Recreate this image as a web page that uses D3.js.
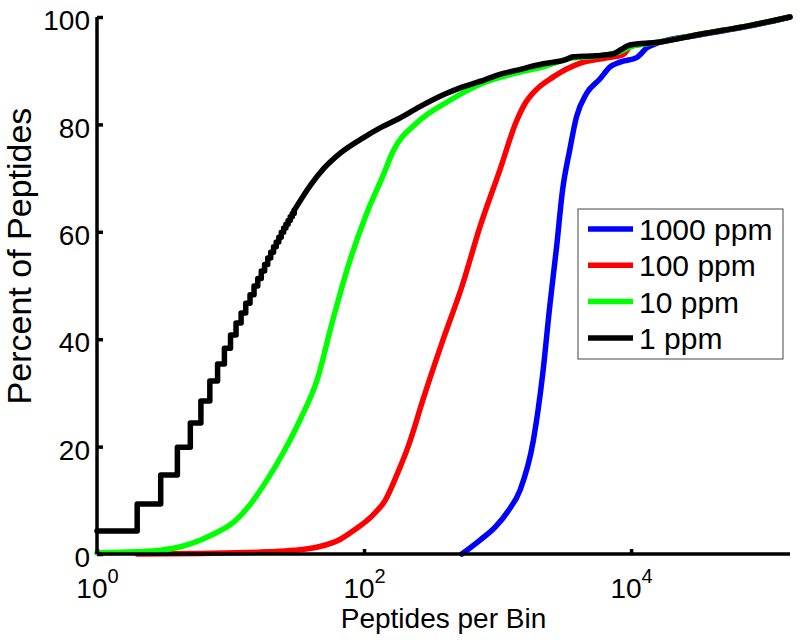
<!DOCTYPE html>
<html>
<head>
<meta charset="utf-8">
<script src="https://cdn.jsdelivr.net/npm/d3@7"></script>
<style>
html,body{margin:0;padding:0;background:#fff;}
svg{display:block;font-family:"Liberation Sans",Arial,Helvetica,sans-serif;}
</style>
</head>
<body>
<svg id="chart" width="800" height="640"></svg>
<script>
// ---- data ----
const xTickValues = [1, 100, 10000];
const xTickExponents = ["0", "2", "4"];
const yTickValues = [0, 20, 40, 60, 80, 100];
const seriesNames = ["1000 ppm", "100 ppm", "10 ppm", "1 ppm"];
const seriesColors = ["#0000ff", "#ff0000", "#00ff00", "#000000"];

const blueX = [540, 740, 960, 1200, 1475, 1855, 2183, 2457, 2768, 3070, 3470, 3900, 4650, 5860, 6960, 8260, 11100, 13200, 16000, 33000, 77000, 155000];
const blueY = [0, 2.6, 5.0, 8.0, 11.9, 21.2, 33.7, 46, 57.2, 67.8, 75.2, 81.4, 85.8, 88.5, 90.7, 91.6, 92.5, 94.3, 95.2, 96.7, 98.3, 100];

const redX = [2, 6, 19, 30, 45, 66, 85, 116, 144, 180, 214, 281, 392, 544, 740, 1040, 1380, 1600, 1920, 2600, 4170, 6600, 8700, 10000, 16000, 33000, 77000, 155000];
const redY = [0, 0.1, 0.4, 0.7, 1.3, 2.7, 4.5, 7.2, 10, 15.3, 20, 29.3, 40, 50, 61, 71.5, 80.5, 83.8, 86.3, 88.8, 91.4, 92.4, 93, 94.6, 95.3, 96.8, 98.4, 100];

const greenX = [1, 2, 3, 4.3, 6.1, 8, 10.4, 14, 18.8, 25, 33.2, 44.5, 58.4, 78.5, 105, 139, 165, 249, 441, 780, 1394, 2183, 3500, 5000, 8000, 10000, 16000, 33000, 77000, 155000];
const greenY = [0.2, 0.4, 0.7, 1.4, 2.7, 4.1, 5.8, 9.2, 13.8, 19, 25, 32.4, 43.6, 54.7, 63.5, 70.5, 75, 80.3, 84.5, 87.7, 89.6, 90.7, 92.3, 92.6, 93.4, 94.5, 95.3, 96.8, 98.4, 100];

const blackStepX = [1, 2, 3, 4, 5, 6, 7, 8, 9, 10, 11, 12, 13, 14, 15, 16, 17, 18, 19, 20, 21, 22, 23, 24, 25, 26, 27, 28, 29, 30];
const blackStepY = [4.3, 9.3, 14.7, 19.9, 24.4, 28.5, 32.2, 35.4, 38.3, 40.8, 43.0, 44.9, 46.7, 48.3, 49.9, 51.3, 52.7, 53.9, 55.1, 56.2, 57.2, 58.1, 59.0, 59.9, 60.7, 61.4, 62.1, 62.8, 63.4, 64.0];
const blackX = [30, 40, 50, 66, 100, 131, 180, 262, 400, 524, 800, 1040, 1500, 2200, 3200, 3700, 5500, 7300, 8500, 9800, 16000, 33000, 77000, 155000];
const blackY = [64.0, 68.8, 71.8, 74.6, 77.6, 79.3, 81.0, 83.3, 85.6, 86.8, 88.3, 89.3, 90.3, 91.3, 92.0, 92.6, 92.8, 93.1, 94.0, 94.8, 95.3, 96.8, 98.4, 100];

// ---- layout ----
const svg = d3.select("#chart");
const x = d3.scaleLog().domain([1, 155000]).range([97, 790]);
const y = d3.scaleLinear().domain([0, 100]).range([554, 17]);

const zip = (xs, ys) => xs.map((v, i) => [v, ys[i]]);
const lineSmooth = d3.line().x(d => x(d[0])).y(d => y(d[1])).curve(d3.curveMonotoneX);
const lineStep = d3.line().x(d => x(d[0])).y(d => y(d[1])).curve(d3.curveStepAfter);

const g = svg.append("g");
const curves = [
  {pts: zip(blueX, blueY), color: seriesColors[0], gen: lineSmooth},
  {pts: zip(redX, redY), color: seriesColors[1], gen: lineSmooth},
  {pts: zip(greenX, greenY), color: seriesColors[2], gen: lineSmooth},
  {pts: zip(blackStepX, blackStepY), color: seriesColors[3], gen: lineStep},
  {pts: zip(blackX, blackY), color: seriesColors[3], gen: lineSmooth}
];
curves.forEach(c => {
  g.append("path")
    .attr("d", c.gen(c.pts))
    .attr("fill", "none")
    .attr("stroke", c.color)
    .attr("stroke-width", 5.5)
    .attr("stroke-linejoin", "round")
    .attr("stroke-linecap", "round");
});

// ---- axes ----
const yAxis = d3.axisLeft(y).tickValues(yTickValues).tickSize(-6).tickPadding(8).tickFormat(d3.format("d"));
const yG = svg.append("g").attr("transform", "translate(97,0)").call(yAxis);
yG.select(".domain").attr("stroke", "#000").attr("stroke-width", 3.5).attr("d", `M0,${y(0)}V${y(100)}`);
yG.selectAll(".tick line").attr("stroke", "#000").attr("stroke-width", 3.5);
yG.selectAll(".tick text").attr("font-size", 28).attr("fill", "#000")
  .attr("font-family", "Liberation Sans, Arial, sans-serif").attr("dy", "0.45em").attr("x", -7);

const xAxis = d3.axisBottom(x).tickValues(xTickValues).tickSize(-5).tickFormat(() => "");
const xG = svg.append("g").attr("transform", "translate(0,554)").call(xAxis);
xG.select(".domain").attr("stroke", "#000").attr("stroke-width", 3.5).attr("d", `M${x(1)},0H${x(155000)}`);
xG.selectAll(".tick line").attr("stroke", "#000").attr("stroke-width", 3.5);
xG.selectAll(".tick text").remove();
xG.selectAll(".tick").each(function(d, i) {
  const t = d3.select(this).append("text")
    .attr("y", 44)
    .attr("text-anchor", "middle")
    .attr("font-size", 28)
    .attr("fill", "#000");
  t.append("tspan").text("10");
  t.append("tspan").attr("dy", -15).attr("font-size", 20).text(xTickExponents[i]);
});

// axis labels
svg.append("text")
  .attr("x", (x(1) + x(155000)) / 2)
  .attr("y", 628)
  .attr("text-anchor", "middle")
  .attr("font-size", 28)
  .attr("fill", "#000")
  .text("Peptides per Bin");

svg.append("text")
  .attr("transform", "translate(31,256) rotate(-90)")
  .attr("text-anchor", "middle")
  .attr("font-size", 34)
  .attr("fill", "#000")
  .text("Percent of Peptides");

// ---- legend ----
const leg = svg.append("g").attr("transform", "translate(578,209)");
leg.append("rect").attr("x", 0).attr("y", 0).attr("width", 205).attr("height", 150)
  .attr("fill", "#fff").attr("stroke", "#444").attr("stroke-width", 1);
seriesNames.forEach((name, i) => {
  const cy = 20 + i * 36.3;
  leg.append("line").attr("x1", 10).attr("x2", 55).attr("y1", cy).attr("y2", cy)
    .attr("stroke", seriesColors[i]).attr("stroke-width", 5.5);
  leg.append("text").attr("x", 61).attr("y", cy + 11).attr("font-size", 30).attr("fill", "#000").text(name);
});
</script>
</body>
</html>
